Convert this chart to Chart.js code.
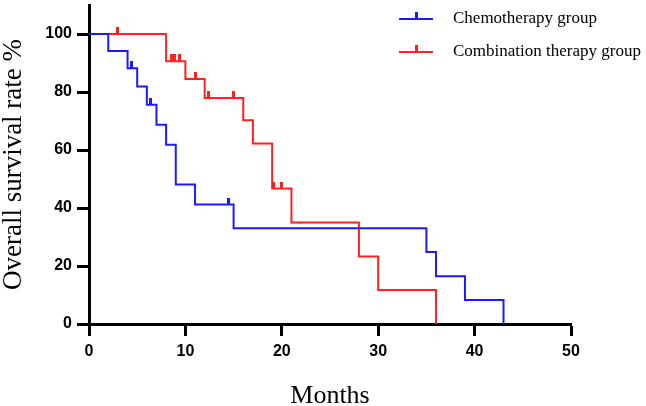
<!DOCTYPE html>
<html>
<head>
<meta charset="utf-8">
<script src="https://cdn.jsdelivr.net/npm/chart.js@4.4.1/dist/chart.umd.min.js"></script>
<style>
  html, body { margin: 0; padding: 0; background: #fff; }
  canvas { display: block; }
</style>
</head>
<body>
<canvas id="km" width="646" height="406"></canvas>
<script>
// Kaplan-Meier steps (months, survival %)
var chemoTimes = [0, 2, 4, 5, 6, 7, 8, 9, 11, 15, 35, 36, 39, 43];
var chemoSurvival = [100, 94.1, 88.2, 81.9, 75.6, 68.7, 61.8, 48.1, 41.2, 33.0, 24.8, 16.5, 8.3, 0];
var chemoCensored = [4.4, 6.4, 14.5];

var comboTimes = [0, 8, 10, 12, 16, 17, 19, 21, 28, 30, 36];
var comboSurvival = [100, 90.6, 84.5, 77.9, 70.3, 62.2, 46.7, 35.0, 23.3, 11.7, 0];
var comboCensored = [3, 8.6, 8.9, 9.4, 11, 12.4, 15, 19.1, 20];

var xTicks = [0, 10, 20, 30, 40, 50];
var yTicks = [0, 20, 40, 60, 80, 100];

var BLUE = '#1a1aff';
var RED = '#ff2020';

function steps(times, vals) {
    return times.map(function (t, i) { return { x: t, y: vals[i] }; });
}

// survival value at a censoring time (last step at or before t)
function censorPoints(cens, times, vals) {
    return cens.map(function (t) {
        var v = vals[0];
        for (var i = 0; i < times.length; i++) {
            if (times[i] <= t) v = vals[i];
        }
        return { x: t, y: v };
    });
}

// small vertical tick sitting on top of the curve
function tickMark(color) {
    var c = document.createElement('canvas');
    c.width = 3;
    c.height = 14;
    var g = c.getContext('2d');
    g.fillStyle = color;
    g.fillRect(0, 0, 3, 7);
    return c;
}

var legendItems = [
    { text: 'Chemotherapy group', color: BLUE },
    { text: 'Combination therapy group', color: RED }
];

var legendPlugin = {
    id: 'kmLegend',
    afterDraw: function (chart) {
        var ctx = chart.ctx;
        ctx.save();
        legendItems.forEach(function (item, i) {
            var y = 19 + i * 33;
            ctx.strokeStyle = item.color;
            ctx.lineWidth = 2;
            ctx.beginPath();
            ctx.moveTo(399, y);
            ctx.lineTo(433, y);
            ctx.stroke();
            ctx.fillStyle = item.color;
            ctx.fillRect(415, y - 7, 3, 7);
            ctx.fillStyle = '#000';
            ctx.font = '17px "Liberation Serif"';
            ctx.textBaseline = 'middle';
            ctx.textAlign = 'left';
            ctx.fillText(item.text, 453, y);
        });
        ctx.restore();
    }
};

Chart.defaults.font.family = '"Liberation Sans", Arial, sans-serif';
Chart.defaults.color = '#000';

new Chart(document.getElementById('km'), {
    type: 'line',
    data: {
        datasets: [
            {
                label: 'Chemotherapy group',
                data: steps(chemoTimes, chemoSurvival),
                borderColor: BLUE,
                borderWidth: 2,
                stepped: true,
                pointRadius: 0,
                fill: false
            },
            {
                label: 'Combination therapy group',
                data: steps(comboTimes, comboSurvival),
                borderColor: RED,
                borderWidth: 2,
                stepped: true,
                pointRadius: 0,
                fill: false
            },
            {
                type: 'scatter',
                label: 'chemo censored',
                data: censorPoints(chemoCensored, chemoTimes, chemoSurvival),
                pointStyle: tickMark(BLUE),
                pointRadius: 3,
                showLine: false
            },
            {
                type: 'scatter',
                label: 'combo censored',
                data: censorPoints(comboCensored, comboTimes, comboSurvival),
                pointStyle: tickMark(RED),
                pointRadius: 3,
                showLine: false
            }
        ]
    },
    options: {
        responsive: false,
        animation: false,
        devicePixelRatio: 1,
        layout: { padding: { left: 0, right: 75, top: 3, bottom: 0 } },
        plugins: {
            legend: { display: false },
            tooltip: { enabled: false }
        },
        scales: {
            x: {
                type: 'linear',
                min: 0,
                max: 50,
                afterBuildTicks: function (s) { s.ticks = xTicks.map(function (v) { return { value: v }; }); },
                afterFit: function (s) { s.height = 82; },
                border: { display: true, color: '#000', width: 3 },
                grid: { drawOnChartArea: false, tickLength: 12, tickWidth: 3, tickColor: '#000' },
                ticks: { padding: 6, font: { size: 16, weight: 'bold' }, maxRotation: 0 },
                title: {
                    display: true,
                    text: 'Months',
                    font: { family: '"Liberation Serif", "Times New Roman", serif', size: 26, lineHeight: 1 },
                    padding: { top: 0, bottom: -3 }
                }
            },
            y: {
                min: 0,
                max: 110,
                afterBuildTicks: function (s) { s.ticks = yTicks.map(function (v) { return { value: v }; }); },
                afterFit: function (s) { s.width = 89; s.paddingTop = 0; s.paddingBottom = 0; },
                border: { display: true, color: '#000', width: 3 },
                grid: { drawOnChartArea: false, tickLength: 12, tickWidth: 3, tickColor: '#000' },
                ticks: { padding: 5, font: { size: 16, weight: 'bold' } },
                title: {
                    display: true,
                    text: 'Overall survival rate %',
                    font: { family: '"Liberation Serif", "Times New Roman", serif', size: 27, lineHeight: 1 },
                    padding: 0
                }
            }
        }
    },
    plugins: [legendPlugin]
});
</script>
</body>
</html>
